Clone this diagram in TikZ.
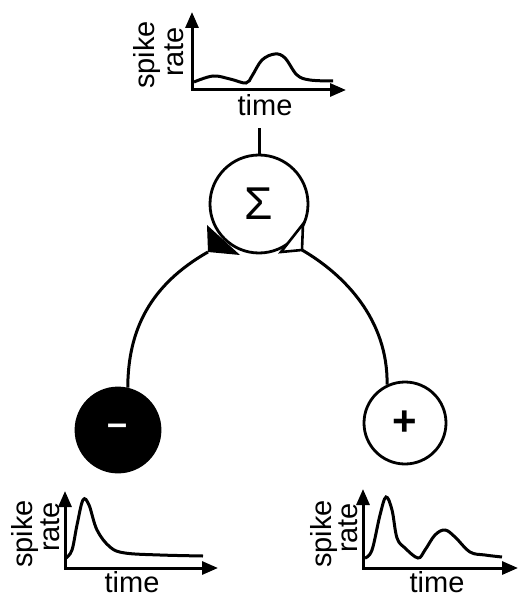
\documentclass[tikz,border=0pt]{standalone}
\usepackage{fontspec}
\setmainfont{Liberation Sans}
\usetikzlibrary{arrows.meta}
\begin{document}
\begin{tikzpicture}[x=1pt,y=-1pt,
  axes/.style={line width=3pt,line join=miter,{Triangle[width=13pt,length=16pt]}-{Triangle[width=13pt,length=16pt]}},
  trace/.style={line width=3pt,smooth,tension=0.6},
  lbl/.style={inner sep=0pt,font=\fontsize{29}{32}\selectfont},
  vlbl/.style={lbl,rotate=90,anchor=base},
  neuron/.style={circle,draw,line width=2.8pt,inner sep=0pt},
  wire/.style={line width=3pt}]
\useasboundingbox (0,0) rectangle (526,601);

% ---------- top graph ----------
\coordinate (ty) at (192,12);
\coordinate (to) at (192,90);
\coordinate (tx) at (346,90);
\draw[axes] (ty) -- (to) -- (tx);
\draw[trace] plot coordinates {(194,82) (213,76) (230,79) (246,83) (252,76) (262,60) (275,54) (285,58) (297,75) (310,80) (333,81)};
\node[vlbl] (tspike) at (154,55) {spike};
\node[vlbl] (trate) at (183,52) {rate};
\node[lbl] (ttime) at (265,105) {time};

% ---------- neurons ----------
\node[neuron,minimum size=98pt,font=\fontsize{46}{50}\selectfont] (sum) at (259,204) {Σ};
\node[neuron,fill=black,minimum size=84pt,text=white,font=\fontsize{36}{38}\selectfont\bfseries] (inh) at (118,430) {–};
\node[neuron,minimum size=82pt,font=\fontsize{42}{46}\selectfont\bfseries] (exc) at (405,423) {+};

\coordinate (topend) at (259,128);
\draw[wire] (sum.north) -- (topend);

% synapse terminals
\coordinate (tl) at (208,252);
\coordinate (tr) at (302,250);
\draw[wire] (inh.77) .. controls (128,330) and (150,285) .. (tl);
\draw[wire] (tr) .. controls (345,275) and (388,320) .. (exc.115);
\fill (207,225) -- (tl) -- (240,255) -- cycle;
\draw[line width=2.6pt,line join=miter,fill=white] (303,224) -- (tr) -- (281,252) -- cycle;

% ---------- bottom-left graph ----------
\coordinate (ly) at (65,491);
\coordinate (lo) at (65,568);
\coordinate (lx) at (218,568);
\draw[axes] (ly) -- (lo) -- (lx);
\draw[trace] plot coordinates {(66,558) (72,550) (77,525) (83,500) (89,505) (97,530) (110,547) (125,553) (160,555) (203,556)};
\node[vlbl] (lspike) at (32,534) {spike};
\node[vlbl] (lrate) at (59,527) {rate};
\node[lbl] (ltime) at (132,582) {time};

% ---------- bottom-right graph ----------
\coordinate (ry) at (363,489);
\coordinate (ro) at (363,568);
\coordinate (rx) at (518,568);
\draw[axes] (ry) -- (ro) -- (rx);
\draw[trace] plot coordinates {(365,558) (372,550) (380,515) (386,497) (392,510) (397,538) (405,548) (418,558) (425,550) (435,535) (445,530) (455,537) (470,552) (485,555) (502,557)};
\node[vlbl] (rspike) at (331,534) {spike};
\node[vlbl] (rrate) at (357,528) {rate};
\node[lbl] (rtime) at (437,582) {time};
\end{tikzpicture}
\end{document}
